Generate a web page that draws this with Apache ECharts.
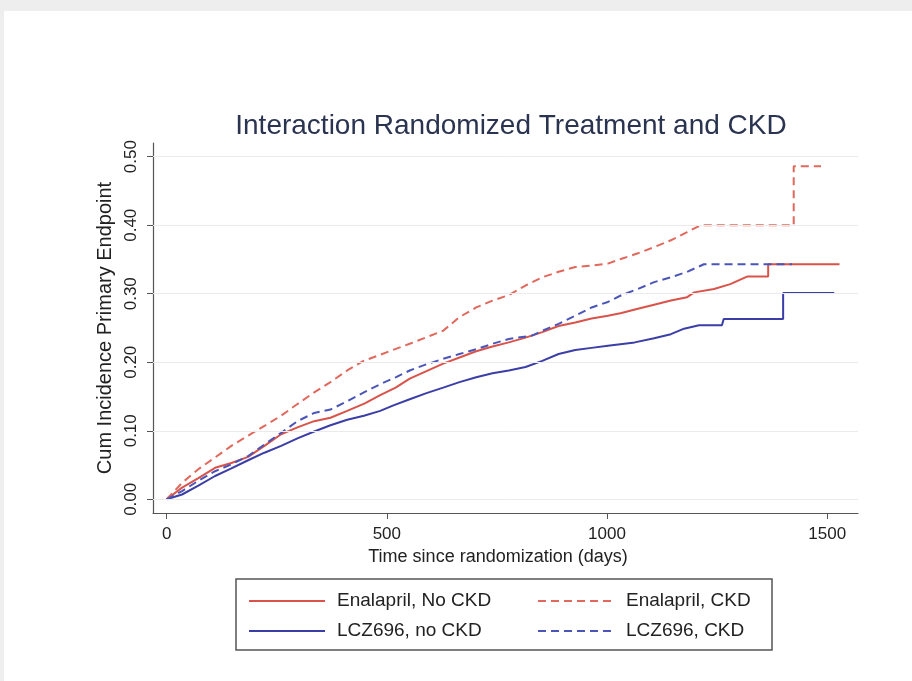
<!DOCTYPE html>
<html>
<head>
<meta charset="utf-8">
<script src="https://cdn.jsdelivr.net/npm/echarts@6/dist/echarts.min.js"></script>
<style>
html,body{margin:0;padding:0;background:#fff;}
#chart{width:912px;height:681px;}
</style>
</head>
<body>
<div id="chart"></div>
<script>
// ---- data (days, cumulative incidence) ----
const enalaprilNoCKD = [[0,0],[35,0.017],[72,0.031],[110,0.046],[147,0.053],[185,0.062],[222,0.078],[260,0.095],[297,0.105],[335,0.114],[372,0.119],[410,0.129],[450,0.140],[485,0.152],[520,0.163],[552,0.176],[590,0.187],[628,0.198],[665,0.207],[703,0.216],[740,0.223],[777,0.229],[815,0.236],[853,0.244],[890,0.253],[928,0.258],[965,0.264],[1002,0.268],[1033,0.272],[1070,0.278],[1107,0.284],[1145,0.290],[1182,0.295],[1198,0.302],[1243,0.307],[1280,0.314],[1318,0.325],[1366,0.325],[1366,0.343],[1528,0.343]];
const enalaprilCKD = [[0,0],[35,0.024],[72,0.044],[110,0.061],[147,0.078],[185,0.093],[222,0.107],[260,0.122],[297,0.139],[335,0.156],[372,0.171],[410,0.188],[447,0.202],[485,0.211],[552,0.227],[628,0.246],[665,0.266],[703,0.280],[740,0.290],[777,0.298],[815,0.312],[853,0.324],[890,0.332],[928,0.339],[965,0.341],[1002,0.344],[1033,0.351],[1070,0.359],[1107,0.368],[1145,0.378],[1182,0.390],[1213,0.400],[1424,0.400],[1424,0.486],[1486,0.486]];
const lczNoCKD = [[0,0],[35,0.007],[72,0.020],[110,0.034],[147,0.045],[185,0.057],[222,0.068],[260,0.078],[297,0.089],[335,0.099],[372,0.108],[410,0.116],[448,0.122],[485,0.129],[515,0.137],[552,0.146],[590,0.155],[628,0.163],[665,0.171],[703,0.178],[740,0.184],[777,0.188],[815,0.193],[853,0.202],[890,0.212],[928,0.218],[965,0.221],[1002,0.224],[1063,0.229],[1107,0.235],[1145,0.241],[1175,0.249],[1209,0.254],[1261,0.254],[1265,0.263],[1400,0.263],[1400,0.301],[1516,0.301]];
const lczCKD = [[0,0],[35,0.012],[72,0.027],[110,0.041],[147,0.051],[185,0.063],[222,0.080],[260,0.097],[297,0.114],[335,0.126],[372,0.131],[410,0.143],[448,0.156],[485,0.168],[520,0.178],[552,0.188],[590,0.197],[628,0.205],[665,0.212],[703,0.219],[740,0.227],[777,0.234],[830,0.239],[853,0.246],[890,0.256],[928,0.268],[965,0.280],[1002,0.288],[1033,0.298],[1070,0.307],[1107,0.317],[1145,0.324],[1182,0.332],[1220,0.343],[1420,0.343]];

const seriesNames = ['Enalapril, No CKD','Enalapril, CKD','LCZ696, no CKD','LCZ696, CKD'];
const xTicks = [0,500,1000,1500];
const yTicks = [0,0.1,0.2,0.3,0.4,0.5];

const FONT = "'Liberation Sans', Arial, Helvetica, sans-serif";
const RED = '#d9534a', RED_D = '#e0685c', BLUE = '#3a3ea6', BLUE_D = '#4b55b8';

const chart = echarts.init(document.getElementById('chart'));
function line(name, data, color, dashed){
  return {
    name, type:'line', data, symbol:'none', showSymbol:false, z:3,
    lineStyle:{color, width:2, type: dashed ? [8,5] : 'solid'},
    itemStyle:{color}, emphasis:{disabled:true}, animation:false
  };
}
const legendBase = {
  orient:'vertical', top:590, padding:0,
  itemWidth:76, itemHeight:14, itemGap:8,
  itemStyle:{opacity:0, borderWidth:0},
  textStyle:{fontFamily:FONT, fontSize:19, color:'#222', lineHeight:22, padding:[0,0,0,7]}
};
const option = {
  animation:false,
  backgroundColor:'#ffffff',
  textStyle:{fontFamily:FONT},
  title:{
    text:'Interaction Randomized Treatment and CKD',
    left:506, top:107, textAlign:'center',
    textStyle:{fontFamily:FONT, fontSize:28, fontWeight:'normal', color:'#2a3350'}
  },
  graphic:[
    {type:'rect', shape:{x:0,y:0,width:912,height:11}, style:{fill:'#eeeeee'}, z:-1},
    {type:'rect', shape:{x:0,y:0,width:4,height:681}, style:{fill:'#eeeeee'}, z:-1},
    {type:'rect', shape:{x:236,y:579,width:536,height:71}, style:{fill:'none', stroke:'#555555', lineWidth:1.5}, z:1}
  ],
  grid:{left:153, right:54, top:143, bottom:168},
  legend:[
    Object.assign({}, legendBase, {data:[seriesNames[0], seriesNames[2]], left:248}),
    Object.assign({}, legendBase, {data:[seriesNames[1], seriesNames[3]], left:537})
  ],
  xAxis:{
    type:'value', min:-31, max:1570,
    name:'Time since randomization (days)', nameLocation:'middle', nameGap:30,
    nameTextStyle:{fontFamily:FONT, fontSize:18, color:'#222', padding:[0,15,0,0]},
    axisLine:{show:true, onZero:false, lineStyle:{color:'#555', width:1.2}},
    axisTick:{show:true, inside:false, length:6, customValues:xTicks, lineStyle:{color:'#555'}},
    axisLabel:{customValues:xTicks, margin:13, fontFamily:FONT, fontSize:17, color:'#222',
      formatter:(v)=>String(Math.round(v))},
    splitLine:{show:false}
  },
  yAxis:{
    type:'value', min:-0.02, max:0.52,
    name:'Cum Incidence Primary Endpoint', nameLocation:'middle', nameGap:28, nameRotate:90,
    nameTextStyle:{fontFamily:FONT, fontSize:20, color:'#222'},
    axisLine:{show:true, onZero:false, lineStyle:{color:'#555', width:1.2}},
    axisTick:{show:true, inside:false, length:6, customValues:yTicks, lineStyle:{color:'#555'}},
    axisLabel:{customValues:yTicks, rotate:90, margin:13, fontFamily:FONT, fontSize:17, color:'#222',
      formatter:(v)=>Number(v).toFixed(2)},
    splitLine:{show:false}
  },
  series:[
    {name:'grid', type:'line', data:[[0,0]], symbol:'none', lineStyle:{opacity:0}, z:1, silent:true,
     markLine:{silent:true, symbol:['none','none'], label:{show:false}, animation:false,
       lineStyle:{color:'#ebebeb', width:1, type:'solid'},
       emphasis:{disabled:true},
       data: yTicks.map(v=>({yAxis:v}))}},
    line(seriesNames[0], enalaprilNoCKD, RED, false),
    line(seriesNames[1], enalaprilCKD, RED_D, true),
    line(seriesNames[2], lczNoCKD, BLUE, false),
    line(seriesNames[3], lczCKD, BLUE_D, true)
  ]
};
chart.setOption(option);
</script>
</body>
</html>
